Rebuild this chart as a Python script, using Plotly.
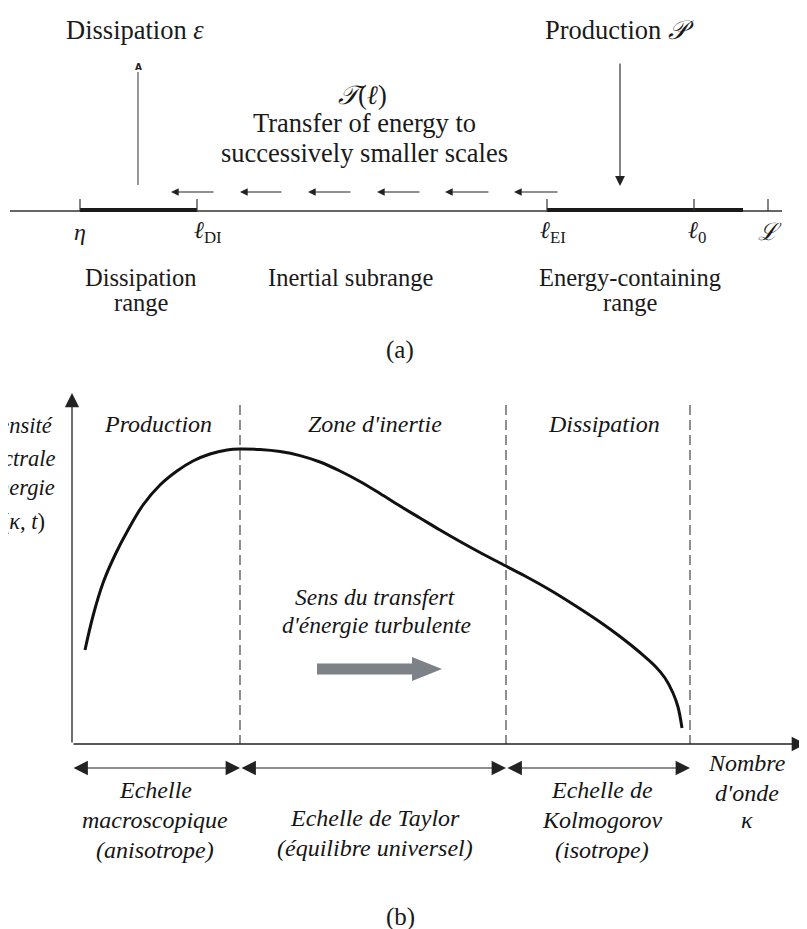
import plotly.graph_objects as go

W, H = 807, 929
PAGE_PAD = 8  # default page margin around the plot div
INK = "#1a1a1a"
SERIF = "Liberation Serif"

# ---------------- (a) length-scale diagram ----------------
scale_tick_x = [80, 197, 547, 694, 768]
scale_tick_labels = ["<i>η</i>", "<i>ℓ</i><sub>DI</sub>", "<i>ℓ</i><sub>EI</sub>",
                     "<i>ℓ</i><sub>0</sub>", "<i>ℒ</i>"]
scale_label_x = [80, 208, 553, 697, 770]
dissipation_range_x = [80, 197]
energy_range_x = [547, 743]
transfer_head_x = [171, 240, 308, 377, 445, 514]
transfer_tail_x = [215, 283, 352, 421, 490, 559]
range_label_lines = [["Dissipation", "range"], ["Inertial subrange"],
                     ["Energy-containing", "range"]]
range_label_x = [141, 350, 630]

# ---------------- (b) energy spectrum ----------------
curve_k = [85, 93, 103, 115, 128, 143, 160, 177, 193, 210, 227, 240, 260, 280,
           300, 320, 340, 360, 380, 400, 420, 440, 460, 480, 500, 525, 550,
           575, 600, 620, 640, 655, 665, 673, 678, 682]
curve_E = [650, 616, 583, 555, 530, 505, 485, 471, 461, 454, 450, 449, 449.6, 451.6,
           455.6, 462, 471, 481.5, 493.5, 506, 518, 530, 541.5, 552.5, 563, 576, 590,
           605.5, 622, 636.5, 652.5, 666, 678, 693, 707, 728]
zone_bounds = [240, 506, 690]
zone_names = ["Production", "Zone d'inertie", "Dissipation"]
zone_name_x = [158, 375, 604]
scale_span_start = [72, 240, 506]
scale_span_end = [240, 506, 690]
scale_names = [["Echelle", "macroscopique", "(anisotrope)"],
               ["Echelle de Taylor", "(équilibre universel)"],
               ["Echelle de", "Kolmogorov", "(isotrope)"]]
scale_name_x = [155, 375, 602]
y_title_lines = ["<i>Densité</i>", "<i>spectrale</i>", "<i>d'énergie</i>",
                 "<i>E</i>(<i>κ</i>, <i>t</i>)"]
y_title_right = [55, 57, 57, 47]
y_title_y = [425, 458, 487, 521]
x_title_lines = ["Nombre", "d'onde", "κ"]

# layout geometry (pixels)
A_AXIS_Y = 211
B_ORIGIN = (72, 744)
B_TOP = 393
B_RIGHT = 806

fig = go.Figure()
annotations = []
shapes = []

# ---- (a) axis line
shapes.append(dict(type="line", x0=10, x1=782, y0=A_AXIS_Y, y1=A_AXIS_Y,
                   line=dict(color="#333", width=1.3)))
for xr in (dissipation_range_x, energy_range_x):
    shapes.append(dict(type="line", x0=xr[0], x1=xr[1], y0=A_AXIS_Y - 1, y1=A_AXIS_Y - 1,
                       line=dict(color=INK, width=4)))
for tx, lab, lx in zip(scale_tick_x, scale_tick_labels, scale_label_x):
    shapes.append(dict(type="line", x0=tx, x1=tx, y0=A_AXIS_Y - 12, y1=A_AXIS_Y,
                       line=dict(color="#333", width=1.2)))
    annotations.append(dict(x=lx, y=A_AXIS_Y + 21, text=lab, showarrow=False,
                            font=dict(family=SERIF, size=24, color=INK)))
# transfer arrows
for hx, tx in zip(transfer_head_x, transfer_tail_x):
    annotations.append(dict(x=hx, y=192, ax=tx, ay=192, xref="x", yref="y",
                            axref="x", ayref="y", text="", showarrow=True,
                            arrowhead=2, arrowsize=1.4, arrowwidth=1.1, arrowcolor="#222"))
# dissipation arrow (line with small glyph)
shapes.append(dict(type="line", x0=138, x1=138, y0=185, y1=72,
                   line=dict(color="#444", width=1.1)))
annotations.append(dict(x=138, y=67, text="<b>A</b>", showarrow=False,
                        font=dict(family="DejaVu Sans", size=9, color="#222")))
# production arrow
annotations.append(dict(x=620, y=186, ax=620, ay=62, xref="x", yref="y",
                        axref="x", ayref="y", text="", showarrow=True,
                        arrowhead=2, arrowsize=1.8, arrowwidth=1.1, arrowcolor="#222"))
TOP_FONT = dict(family=SERIF, size=26.5, color=INK)
annotations += [
    dict(x=135, y=30, text="Dissipation <i>ε</i>", showarrow=False, font=TOP_FONT),
    dict(x=619, y=30, text="Production <i>𝒫</i>", showarrow=False, font=TOP_FONT),
    dict(x=362, y=95, text="<i>𝒯</i>(<i>ℓ</i>)", showarrow=False, font=TOP_FONT),
    dict(x=364, y=123, text="Transfer of energy to", showarrow=False, font=TOP_FONT),
    dict(x=364, y=153, text="successively smaller scales", showarrow=False, font=TOP_FONT),
]
for lines, x in zip(range_label_lines, range_label_x):
    for i, t in enumerate(lines):
        annotations.append(dict(x=x, y=277 + 25 * i, text=t, showarrow=False,
                                font=dict(family=SERIF, size=24.5, color=INK)))
annotations.append(dict(x=400, y=350, text="(a)", showarrow=False,
                        font=dict(family=SERIF, size=25, color=INK)))

# ---- (b) axes
ox, oy = B_ORIGIN
annotations.append(dict(x=ox, y=B_TOP, ax=ox, ay=oy, xref="x", yref="y",
                        axref="x", ayref="y", text="", showarrow=True,
                        arrowhead=2, arrowsize=2.2, arrowwidth=1.3, arrowcolor="#222"))
annotations.append(dict(x=B_RIGHT, y=oy, ax=ox, ay=oy, xref="x", yref="y",
                        axref="x", ayref="y", text="", showarrow=True,
                        arrowhead=2, arrowsize=2.2, arrowwidth=1.3, arrowcolor="#222"))
for xb in zone_bounds:
    shapes.append(dict(type="line", x0=xb, x1=xb, y0=405, y1=oy,
                       line=dict(color="#333", width=1.1, dash="10px,5px")))
B_FONT = dict(family=SERIF, size=24, color="#151515")
for name, x in zip(zone_names, zone_name_x):
    annotations.append(dict(x=x, y=424, text=f"<i>{name}</i>", showarrow=False,
                            font=B_FONT))
for t, xr, y in zip(y_title_lines, y_title_right, y_title_y):
    annotations.append(dict(x=xr, y=y, text=t, showarrow=False, xanchor="right",
                            font=dict(family=SERIF, size=22.5, color="#151515")))
# transfer label + grey arrow
annotations.append(dict(x=375, y=597, text="<i>Sens du transfert</i>", showarrow=False,
                        font=dict(family=SERIF, size=23.5, color="#151515")))
annotations.append(dict(x=376, y=625, text="<i>d'énergie turbulente</i>", showarrow=False,
                        font=dict(family=SERIF, size=23.5, color="#151515")))
ga_x0, ga_x1, ga_head, ga_y, ga_w, ga_hw = 317, 442, 30, 669, 11, 24
shapes.append(dict(type="path",
                   path=(f"M{ga_x0},{ga_y - ga_w / 2} L{ga_x1 - ga_head},{ga_y - ga_w / 2} "
                         f"L{ga_x1 - ga_head},{ga_y - ga_hw / 2} L{ga_x1},{ga_y} "
                         f"L{ga_x1 - ga_head},{ga_y + ga_hw / 2} L{ga_x1 - ga_head},{ga_y + ga_w / 2} "
                         f"L{ga_x0},{ga_y + ga_w / 2} Z"),
                   fillcolor="#7d8188", line=dict(width=0)))

# spectrum curve
fig.add_trace(go.Scatter(x=curve_k, y=curve_E, mode="lines",
                         line=dict(color="#111", width=3, shape="spline", smoothing=1.0),
                         hoverinfo="skip", showlegend=False))

# scale spans (double arrows)
for s, e in zip(scale_span_start, scale_span_end):
    annotations.append(dict(x=e, y=768, ax=s, ay=768, xref="x", yref="y",
                            axref="x", ayref="y", text="", showarrow=True,
                            arrowside="end+start", arrowhead=2, arrowsize=2.4,
                            arrowwidth=1.2, arrowcolor="#222"))
scale_line_y = {3: [790, 820, 850], 2: [818, 848]}
for lines, x in zip(scale_names, scale_name_x):
    for t, y in zip(lines, scale_line_y[len(lines)]):
        annotations.append(dict(x=x, y=y, text=f"<i>{t}</i>", showarrow=False,
                                font=B_FONT))
for t, y in zip(x_title_lines, [763, 793, 820]):
    annotations.append(dict(x=747, y=y, text=f"<i>{t}</i>", showarrow=False,
                            font=B_FONT))
annotations.append(dict(x=400, y=917, text="(b)", showarrow=False,
                        font=dict(family=SERIF, size=25, color=INK)))

# axis ranges are shifted by the page margin so data units equal page pixels
fig.update_layout(
    width=W, height=H, margin=dict(l=0, r=0, t=0, b=0),
    paper_bgcolor="white", plot_bgcolor="white",
    xaxis=dict(range=[PAGE_PAD, W + PAGE_PAD], visible=False, fixedrange=True),
    yaxis=dict(range=[H + PAGE_PAD, PAGE_PAD], visible=False, fixedrange=True),
    annotations=annotations, shapes=shapes, showlegend=False,
)
fig.write_html("out.html")
